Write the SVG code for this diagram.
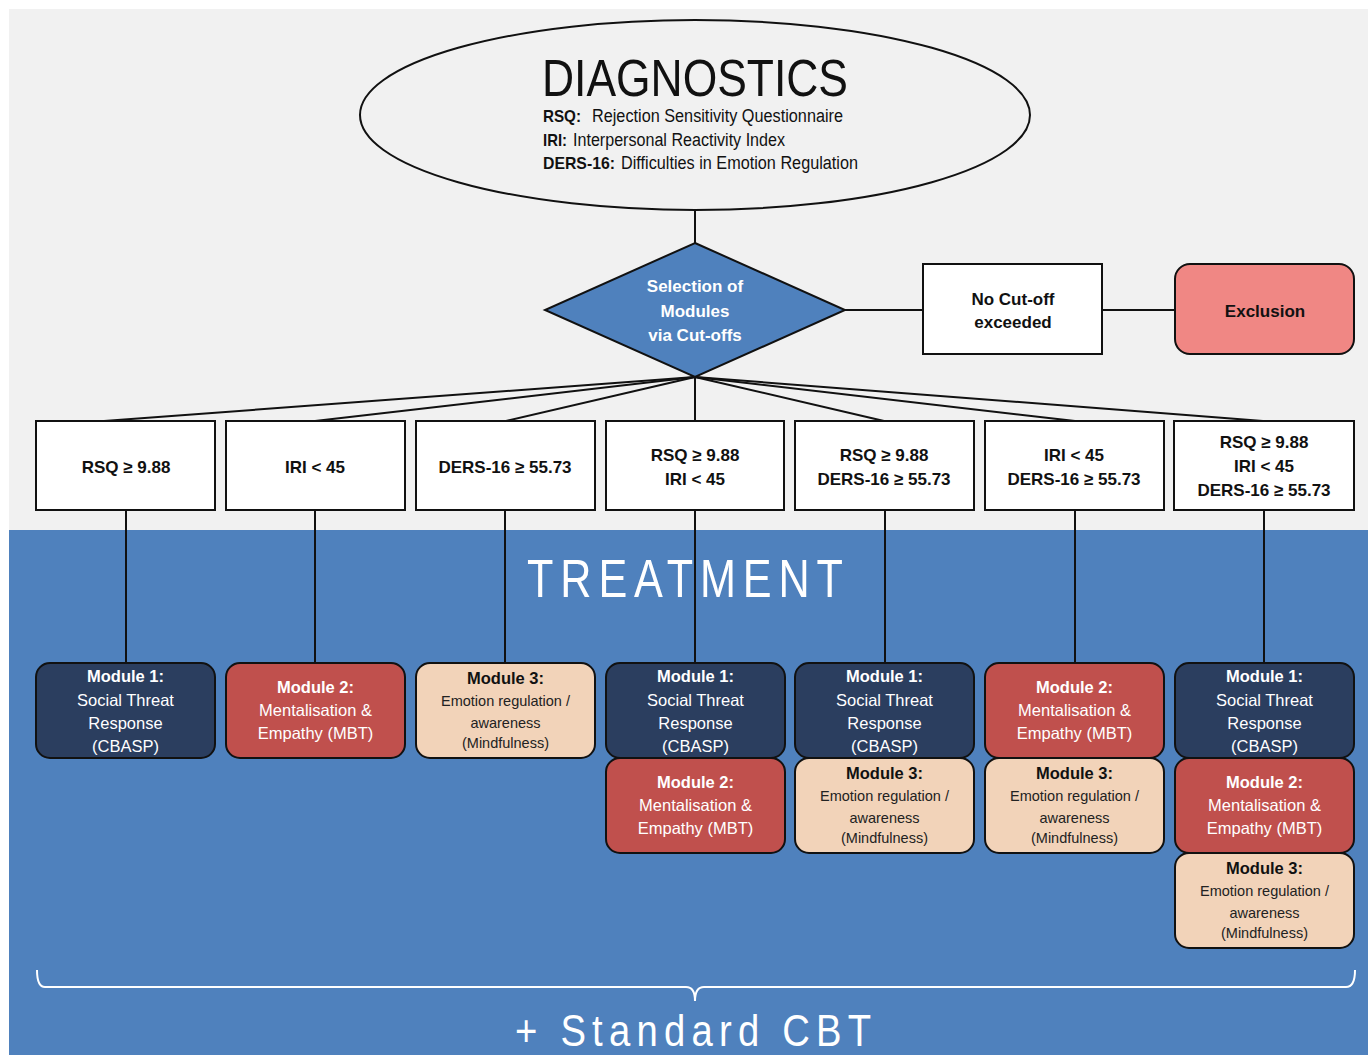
<svg xmlns="http://www.w3.org/2000/svg" width="1368" height="1055" viewBox="0 0 1368 1055">
<style>
text{font-family:"Liberation Sans",Arial,Helvetica,sans-serif}
.ln{stroke:#111;stroke-width:2;fill:none}
.crit{fill:#fff;stroke:#111;stroke-width:2}
.ct{font-size:17px;font-weight:bold;fill:#111;text-anchor:middle}
.mod{stroke:#111;stroke-width:2}
.m1{fill:#2B3E5F}
.m2{fill:#C0504D}
.m3{fill:#F2D3B9}
.mt{font-size:16.5px;text-anchor:middle}
.w{fill:#fff}
.k{fill:#222}
.b{font-weight:bold}
.s{font-size:14.5px}
.hd{font-size:18px;fill:#111}
.hb{font-size:17px;font-weight:bold;fill:#111}
</style>
<rect x="0" y="0" width="1368" height="1055" fill="#fff"/>
<rect x="9" y="9" width="1359" height="521" fill="#F1F1F1"/>
<rect x="9" y="530" width="1359" height="525" fill="#4F81BD"/>

<text transform="translate(527,597) scale(0.8,1)" x="0" y="0" font-size="54" fill="#fff" textLength="395" lengthAdjust="spacing">TREATMENT</text>
<text transform="translate(515,1046) scale(0.85,1)" x="0" y="0" font-size="45" fill="#fff" textLength="419" lengthAdjust="spacing">+ Standard CBT</text>
<path d="M37,970 Q37,987 45,987 L686,987 Q695,987 695,1001 Q695,987 704,987 L1346,987 Q1355,987 1355,970" fill="none" stroke="#fff" stroke-width="2"/>

<g id="connectors" class="ln">
<line x1="695" y1="210" x2="695" y2="243"/>
<line x1="845" y1="310" x2="923" y2="310"/>
<line x1="1102" y1="310" x2="1175" y2="310"/>
<line x1="695" y1="377" x2="104" y2="421"/>
<line x1="695" y1="377" x2="315" y2="421"/>
<line x1="695" y1="377" x2="506" y2="421"/>
<line x1="695" y1="377" x2="695" y2="421"/>
<line x1="695" y1="377" x2="884" y2="421"/>
<line x1="695" y1="377" x2="1075" y2="421"/>
<line x1="695" y1="377" x2="1263" y2="421"/>
<line x1="126" y1="510" x2="126" y2="663"/>
<line x1="315" y1="510" x2="315" y2="663"/>
<line x1="505" y1="510" x2="505" y2="663"/>
<line x1="695" y1="510" x2="695" y2="663"/>
<line x1="885" y1="510" x2="885" y2="663"/>
<line x1="1075" y1="510" x2="1075" y2="663"/>
<line x1="1264" y1="510" x2="1264" y2="663"/>
</g>

<g id="diagnostics">
<ellipse cx="695" cy="115" rx="335" ry="95" fill="#F1F1F1" stroke="#111" stroke-width="2"/>
<text x="542" y="96" font-size="52" fill="#111" textLength="306" lengthAdjust="spacingAndGlyphs">DIAGNOSTICS</text>
<text class="hb" x="543" y="122" textLength="38" lengthAdjust="spacingAndGlyphs">RSQ:</text>
<text class="hd" x="592" y="122" textLength="251" lengthAdjust="spacingAndGlyphs">Rejection Sensitivity Questionnaire</text>
<text class="hb" x="543" y="146" textLength="24" lengthAdjust="spacingAndGlyphs">IRI:</text>
<text class="hd" x="573" y="146" textLength="212" lengthAdjust="spacingAndGlyphs">Interpersonal Reactivity Index</text>
<text class="hb" x="543" y="169" textLength="72" lengthAdjust="spacingAndGlyphs">DERS-16:</text>
<text class="hd" x="621" y="169" textLength="237" lengthAdjust="spacingAndGlyphs">Difficulties in Emotion Regulation</text>
</g>

<g id="selection">
<polygon points="695,243 845,310 695,377 545,310" fill="#4F81BD" stroke="#111" stroke-width="2"/>
<text class="ct" x="695" y="292" style="fill:#fff">Selection of</text>
<text class="ct" x="695" y="317" style="fill:#fff">Modules</text>
<text class="ct" x="695" y="341" style="fill:#fff">via Cut-offs</text>
</g>

<g id="nocutoff">
<rect class="crit" x="923" y="264" width="179" height="90"/>
<text class="ct" x="1013" y="305">No Cut-off</text>
<text class="ct" x="1013" y="328">exceeded</text>
</g>

<g id="exclusion">
<rect x="1175" y="264" width="179" height="90" rx="15" fill="#F08784" stroke="#111" stroke-width="2"/>
<text class="ct" x="1265" y="317">Exclusion</text>
</g>

<g id="c1"><rect class="crit" x="36" y="421" width="179" height="89"/><text class="ct" x="126" y="473">RSQ ≥ 9.88</text></g>
<g id="c2"><rect class="crit" x="226" y="421" width="179" height="89"/><text class="ct" x="315" y="473">IRI &lt; 45</text></g>
<g id="c3"><rect class="crit" x="416" y="421" width="179" height="89"/><text class="ct" x="505" y="473">DERS-16 ≥ 55.73</text></g>
<g id="c4"><rect class="crit" x="606" y="421" width="178" height="89"/><text class="ct" x="695" y="461">RSQ ≥ 9.88</text><text class="ct" x="695" y="485">IRI &lt; 45</text></g>
<g id="c5"><rect class="crit" x="795" y="421" width="179" height="89"/><text class="ct" x="884" y="461">RSQ ≥ 9.88</text><text class="ct" x="884" y="485">DERS-16 ≥ 55.73</text></g>
<g id="c6"><rect class="crit" x="985" y="421" width="179" height="89"/><text class="ct" x="1074" y="461">IRI &lt; 45</text><text class="ct" x="1074" y="485">DERS-16 ≥ 55.73</text></g>
<g id="c7"><rect class="crit" x="1174" y="421" width="180" height="89"/><text class="ct" x="1264" y="448">RSQ ≥ 9.88</text><text class="ct" x="1264" y="472">IRI &lt; 45</text><text class="ct" x="1264" y="496">DERS-16 ≥ 55.73</text></g>

<defs>
<g id="mod1">
<rect class="mod m1" x="0" y="0" width="179" height="95" rx="14"/>
<text class="mt w b" x="89.5" y="19">Module 1:</text>
<text class="mt w" x="89.5" y="43">Social Threat</text>
<text class="mt w" x="89.5" y="66">Response</text>
<text class="mt w" x="89.5" y="89">(CBASP)</text>
</g>
<g id="mod2">
<rect class="mod m2" x="0" y="0" width="179" height="95" rx="14"/>
<text class="mt w b" x="89.5" y="30">Module 2:</text>
<text class="mt w" x="89.5" y="53">Mentalisation &amp;</text>
<text class="mt w" x="89.5" y="76">Empathy (MBT)</text>
</g>
<g id="mod3">
<rect class="mod m3" x="0" y="0" width="179" height="95" rx="14"/>
<text class="mt k b" x="89.5" y="21" style="fill:#111">Module 3:</text>
<text class="mt k s" x="89.5" y="43">Emotion regulation /</text>
<text class="mt k s" x="89.5" y="65">awareness</text>
<text class="mt k s" x="89.5" y="85">(Mindfulness)</text>
</g>
</defs>

<g id="col1"><use href="#mod1" x="36" y="663"/></g>
<g id="col2"><use href="#mod2" x="226" y="663"/></g>
<g id="col3"><use href="#mod3" x="416" y="663"/></g>
<g id="col4"><use href="#mod1" x="606" y="663"/><use href="#mod2" x="606" y="758"/></g>
<g id="col5"><use href="#mod1" x="795" y="663"/><use href="#mod3" x="795" y="758"/></g>
<g id="col6"><use href="#mod2" x="985" y="663"/><use href="#mod3" x="985" y="758"/></g>
<g id="col7"><use href="#mod1" x="1175" y="663"/><use href="#mod2" x="1175" y="758"/><use href="#mod3" x="1175" y="853"/></g>
</svg>
